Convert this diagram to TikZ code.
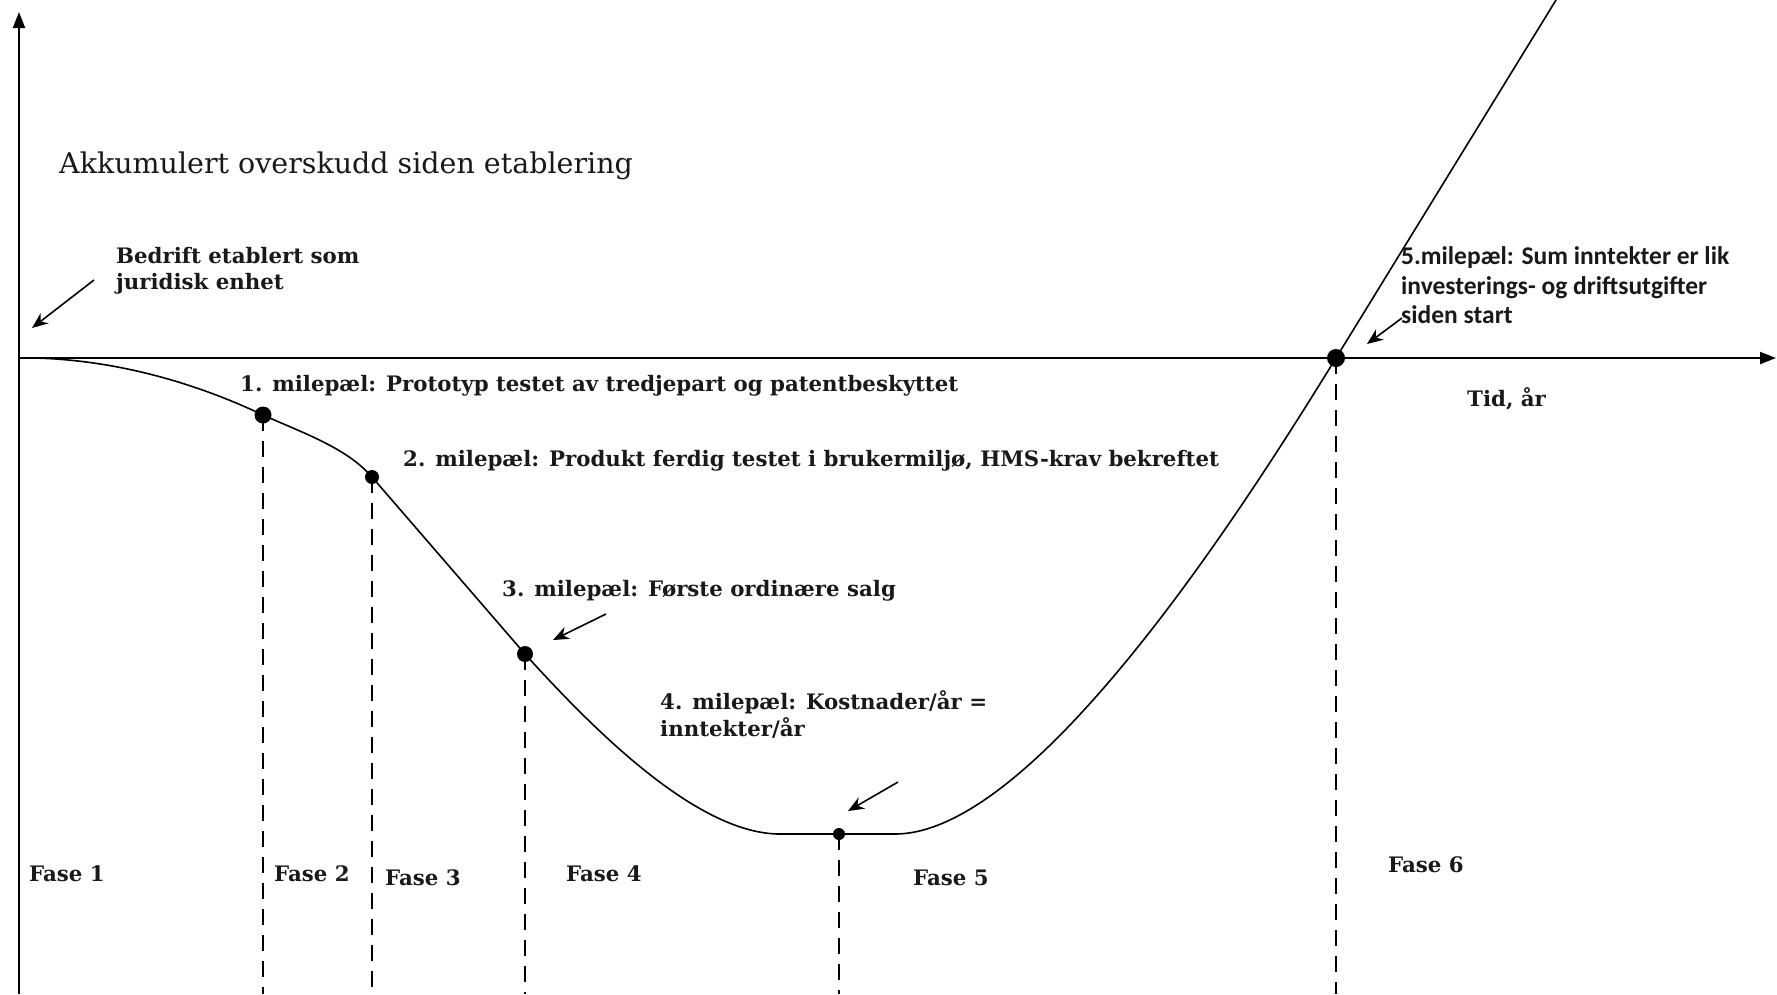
\documentclass[tikz,border=0pt]{standalone}
\usepackage{fontspec}
\setmainfont{DejaVu Serif}
\newfontfamily\calibrifont{Carlito}
\usetikzlibrary{arrows.meta}
\begin{document}
\begin{tikzpicture}[x=1pt,y=-1pt,
  axis/.style={line width=2pt,-{Triangle[length=16pt,width=12pt]}},
  curveline/.style={line width=1.6pt},
  guide/.style={line width=1.8pt,dash pattern=on 16pt off 10pt},
  dot/.style={circle,fill=black,inner sep=0pt,minimum size=#1},
  lbl/.style={anchor=base west,inner sep=0pt,text=black!90,
    font=\bfseries\fontsize{21.3}{27}\selectfont},
  cal/.style={anchor=base west,inner sep=0pt,text=black!90,
    font=\calibrifont\bfseries\fontsize{25.5}{30}\selectfont},
  ptr/.style={line width=1.6pt,-{Stealth[length=16pt,width=13pt]}},
]
\useasboundingbox (0,0) rectangle (1777,994);

% axes
\coordinate (ybot) at (19,994);
\coordinate (ytop) at (19,12);
\coordinate (xo) at (19,358);
\coordinate (xend) at (1776,358);
\draw[axis] (ybot) -- (ytop);
\draw[axis] (xo) -- (xend);

% milestone points
\coordinate (s) at (34,358);
\coordinate (m1) at (263,415);
\coordinate (m2) at (372,477);
\coordinate (m3) at (525,654);
\coordinate (m4) at (839,834);
\coordinate (m5) at (1336,358);
\coordinate (ctop) at (1556,0);
\coordinate (b1) at (263,994);
\coordinate (b2) at (372,994);
\coordinate (b3) at (525,994);
\coordinate (b4) at (839,994);
\coordinate (b5) at (1336,994);

% dashed phase borders
\draw[guide] (m1) -- (b1);
\draw[guide] (m2) -- (b2);
\draw[guide] (m3) -- (b3);
\draw[guide] (m4) -- (b4);
\draw[guide] (m5) -- (b5);

% curve
\draw[curveline] (s) .. controls (120,360) and (200,385) .. (m1)
  .. controls (303,433) and (347,448) .. (m2)
  -- (m3)
  .. controls (600,737) and (700,834) .. (780,834)
  -- (895,834)
  .. controls (1040,834) and (1257,486) .. (m5)
  -- (ctop);

% dots
\node[dot=17pt] (d1) at (m1) {};
\node[dot=14pt] (d2) at (m2) {};
\node[dot=16pt] (d3) at (m3) {};
\node[dot=12pt] (d4) at (m4) {};
\node[dot=18pt] (d5) at (m5) {};

% labels
\node[anchor=base west,inner sep=0pt,text=black!90,font=\fontsize{28.5}{34}\selectfont]
  (title) at (59,173) {Akkumulert overskudd siden etablering};
\node[lbl] (bed1) at (116,263) {Bedrift etablert som};
\node[lbl] (bed2) at (116,289) {juridisk enhet};
\node[lbl] (l1) at (240,391) {1. milepæl: Prototyp testet av tredjepart og patentbeskyttet};
\node[lbl] (l2) at (403,466) {2. milepæl: Produkt ferdig testet i brukermiljø, HMS-krav bekreftet};
\node[lbl] (l3) at (502,596) {3. milepæl: Første ordinære salg};
\node[lbl] (l4a) at (660,709) {4. milepæl: Kostnader/år =};
\node[lbl] (l4b) at (660,736) {inntekter/år};
\node[cal] (l5a) at (1401,264) {5.milepæl: Sum inntekter er lik};
\node[cal] (l5b) at (1401,294) {investerings- og driftsutgifter};
\node[cal] (l5c) at (1401,323) {siden start};
\node[lbl] (tid) at (1467,406) {Tid, år};

\node[lbl] (f1) at (29,881) {Fase 1};
\node[lbl] (f2) at (274,881) {Fase 2};
\node[lbl] (f3) at (385,885) {Fase 3};
\node[lbl] (f4) at (566,881) {Fase 4};
\node[lbl] (f5) at (913,885) {Fase 5};
\node[lbl] (f6) at (1388,872) {Fase 6};

% pointers
\coordinate (p0t) at (94,280);
\coordinate (p0h) at (32,328);
\draw[ptr] (p0t) -- (p0h);
\coordinate (p3t) at (606,614);
\coordinate (p3h) at (553,640);
\draw[ptr] (p3t) -- (p3h);
\coordinate (p4t) at (898,782);
\coordinate (p4h) at (848,811);
\draw[ptr] (p4t) -- (p4h);
\coordinate (p5t) at (1402,318);
\coordinate (p5h) at (1367,344);
\draw[ptr] (p5t) -- (p5h);
\end{tikzpicture}
\end{document}
